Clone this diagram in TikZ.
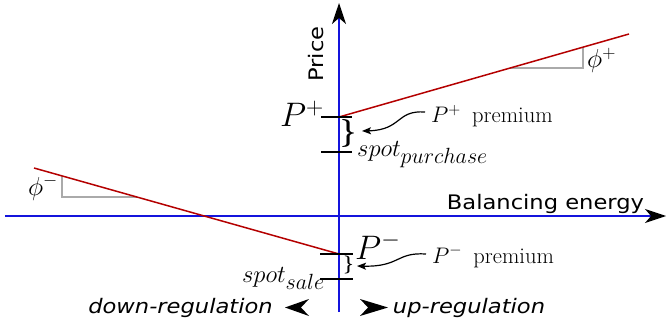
\RequirePackage{fix-cm}
\documentclass[tikz,border=0pt]{standalone}
\usepackage{fontspec}
\newfontfamily\lblfont[FakeStretch=1.13]{DejaVu Sans}
\usetikzlibrary{arrows.meta}
\definecolor{axisblue}{RGB}{20,20,220}
\definecolor{linered}{RGB}{180,0,0}
\definecolor{trigray}{RGB}{170,170,170}
\newcommand{\bbrace}{\mbox{\boldmath$\rbrace$}}
\begin{document}
\begin{tikzpicture}[x=1pt,y=-1pt,
  axis/.style={axisblue, line width=1.4pt, -{Stealth[black,length=21pt,width=14pt,inset=6pt]}},
  priceline/.style={linered, line width=1.5pt},
  tickmark/.style={black, line width=1.4pt},
  tri/.style={trigray, line width=1.4pt},
  axlabel/.style={font=\lblfont\fontsize{20}{20}\selectfont, inner sep=0},
  reglabel/.style={font=\lblfont\itshape\fontsize{20}{20}\selectfont, inner sep=0},
  bigmath/.style={font=\fontsize{34}{34}\selectfont, inner sep=0},
  midmath/.style={font=\fontsize{22.5}{23}\selectfont, inner sep=0},
  phimath/.style={font=\fontsize{26}{26}\selectfont, inner sep=0},
  callout/.style={black, line width=1.2pt, -{Stealth[length=9pt,width=7pt,inset=2pt]}},
  regtip/.style={fill=black}
]
\useasboundingbox (0,0) rectangle (668,331);

% axes
\coordinate (xl) at (5,216);
\coordinate (xr) at (666,216);
\coordinate (yb) at (339,312);
\coordinate (yt) at (339,3);
\draw[axis] (xl) -- (xr);
\draw[axis] (yb) -- (yt);

% price lines
\coordinate (pp0) at (339,117);
\coordinate (pp1) at (629,34);
\coordinate (pm0) at (34,168);
\coordinate (pm1) at (339,254);

% slope triangles
\draw[tri] (583,47.2) -- (583,68) -- (510,68);
\draw[tri] (62,175.9) -- (62,197) -- (137,197);

\draw[priceline] (pp0) -- (pp1);
\draw[priceline] (pm0) -- (pm1);

% ticks
\coordinate (t1a) at (321,117); \coordinate (t1b) at (352,117);
\coordinate (t2a) at (321,152); \coordinate (t2b) at (352,152);
\coordinate (t3a) at (320,254); \coordinate (t3b) at (353,254);
\coordinate (t4a) at (320,279); \coordinate (t4b) at (353,279);
\draw[tickmark] (t1a) -- (t1b);
\draw[tickmark] (t2a) -- (t2b);
\draw[tickmark] (t3a) -- (t3b);
\draw[tickmark] (t4a) -- (t4b);

% braces
\node[inner sep=0, font=\fontsize{28}{28}\selectfont] (brp) at (349,134) {\bbrace};
\node[inner sep=0, font=\fontsize{18}{18}\selectfont] (brm) at (348.5,265) {\bbrace};

% axis labels
\node[axlabel, rotate=90, anchor=base] (price) at (323,54) {Price};
\node[axlabel, anchor=base] (bal) at (545.5,209) {Balancing energy};

% math labels
\node[bigmath, anchor=base east] (pplus) at (324,127) {$P^+$};
\node[bigmath, anchor=base west] (pminus) at (355,259) {$P^-$};
\node[inner sep=0, anchor=base west] (spotp) at (357,157)
  {\fontsize{24.5}{24}\selectfont$spot$\raisebox{-7pt}{\fontsize{22}{22}\selectfont$purchase$}};
\node[inner sep=0, anchor=base west] (spots) at (242,282)
  {\fontsize{24.5}{24}\selectfont$spot$\raisebox{-7pt}{\fontsize{22}{22}\selectfont$sale$}};
\node[midmath, anchor=base west] (ppremium) at (431,123) {$P^+$\hspace{0.5em}premium};
\node[midmath, anchor=base west] (mpremium) at (432,263) {$P^-$\hspace{0.5em}premium};
\node[phimath, anchor=base west] (phip) at (587,68) {$\phi^+$};
\node[phimath, anchor=base east] (phim) at (58,195) {$\phi^-$};

% callout arrows
\coordinate (c1s) at (425,112);
\coordinate (c1e) at (362,131);
\coordinate (c2s) at (426,254);
\coordinate (c2e) at (357,266);
\draw[callout] (c1s) .. controls (396,110) and (402,130) .. (c1e);
\draw[callout] (c2s) .. controls (396,252) and (400,267) .. (c2e);

% regulation labels
\node[reglabel, anchor=base] (down) at (180.5,313) {down-regulation};
\node[reglabel, anchor=base] (up) at (469,313) {up-regulation};
\fill[regtip] (285,307.5) -- (309,299) -- (301,307.5) -- (309,316) -- cycle;
\fill[regtip] (388,307.5) -- (360,299) -- (368,307.5) -- (360,316) -- cycle;
\end{tikzpicture}
\end{document}
